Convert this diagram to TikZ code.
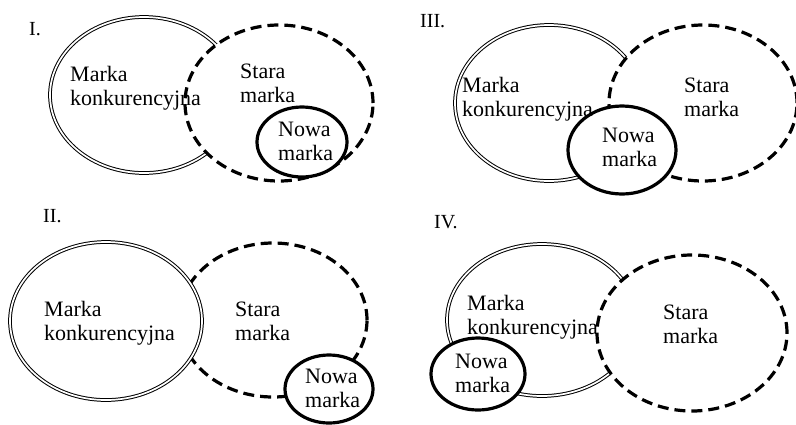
\documentclass[tikz,border=0pt]{standalone}
\usepackage{fontspec}
\setmainfont{Liberation Serif}
\usetikzlibrary{shapes.geometric, positioning}

\begin{document}
\begin{tikzpicture}[x=1pt, y=-1pt,
  konk/.style={ellipse, draw, fill=white, double, line width=1pt,
    double distance=1.7pt, inner sep=0pt},
  stara/.style={ellipse, draw, fill=white, line width=3.2pt,
    dash pattern=on 11pt off 6pt, inner sep=0pt},
  nowa/.style={ellipse, draw, fill=white, line width=3.2pt, inner sep=0pt},
  txt/.style={font=\fontsize{22}{23.5}\selectfont, align=left,
    inner sep=0pt, anchor=base west},
  lbl/.style={font=\fontsize{20}{22}\selectfont, inner sep=0pt,
    anchor=base west}]
  \useasboundingbox (0,0) rectangle (796,424);
  % I.
  \node[konk, minimum width=188pt, minimum height=156pt] (konk1) at (144,95) {};
  \node[stara, minimum width=188pt, minimum height=156pt] (stara1) at (279,103) {};
  \node[nowa, minimum width=90pt, minimum height=70pt] (nowa1) at (302,142) {};
  \node[lbl] (n1) at (29,35) {I.};
  \node[txt] (tkonk1) at (70,105) {Marka\\konkurencyjna};
  \node[txt] (tstara1) at (240,102) {Stara\\marka};
  \node[txt] (tnowa1) at (278,160) {Nowa\\marka};
  % II.
  \node[stara, minimum width=188pt, minimum height=154pt] (stara2) at (273,320) {};
  \node[konk, minimum width=192pt, minimum height=158pt] (konk2) at (106,321) {};
  \node[nowa, minimum width=88pt, minimum height=68pt] (nowa2) at (329,389) {};
  \node[lbl] (n2) at (43,222) {II.};
  \node[txt] (tkonk2) at (44,340) {Marka\\konkurencyjna};
  \node[txt] (tstara2) at (235,340) {Stara\\marka};
  \node[txt] (tnowa2) at (305,407) {Nowa\\marka};
  % III.
  \node[konk, minimum width=188pt, minimum height=156pt] (konk3) at (549,103) {};
  \node[stara, minimum width=188pt, minimum height=156pt] (stara3) at (703,103) {};
  \node[nowa, minimum width=108pt, minimum height=88pt] (nowa3) at (622,150) {};
  \node[lbl] (n3) at (420,27) {III.};
  \node[txt] (tkonk3) at (462,116) {Marka\\konkurencyjna};
  \node[txt] (tstara3) at (684,116) {Stara\\marka};
  \node[txt] (tnowa3) at (602,166) {Nowa\\marka};
  % IV.
  \node[konk, minimum width=190pt, minimum height=152pt] (konk4) at (542,320) {};
  \node[stara, minimum width=190pt, minimum height=156pt] (stara4) at (692,333) {};
  \node[nowa, minimum width=94pt, minimum height=72pt] (nowa4) at (478,374) {};
  \node[lbl] (n4) at (434,228) {IV.};
  \node[txt] (tkonk4) at (467,334) {Marka\\konkurencyjna};
  \node[txt] (tstara4) at (663,343) {Stara\\marka};
  \node[txt] (tnowa4) at (455,392) {Nowa\\marka};
\end{tikzpicture}
\end{document}
